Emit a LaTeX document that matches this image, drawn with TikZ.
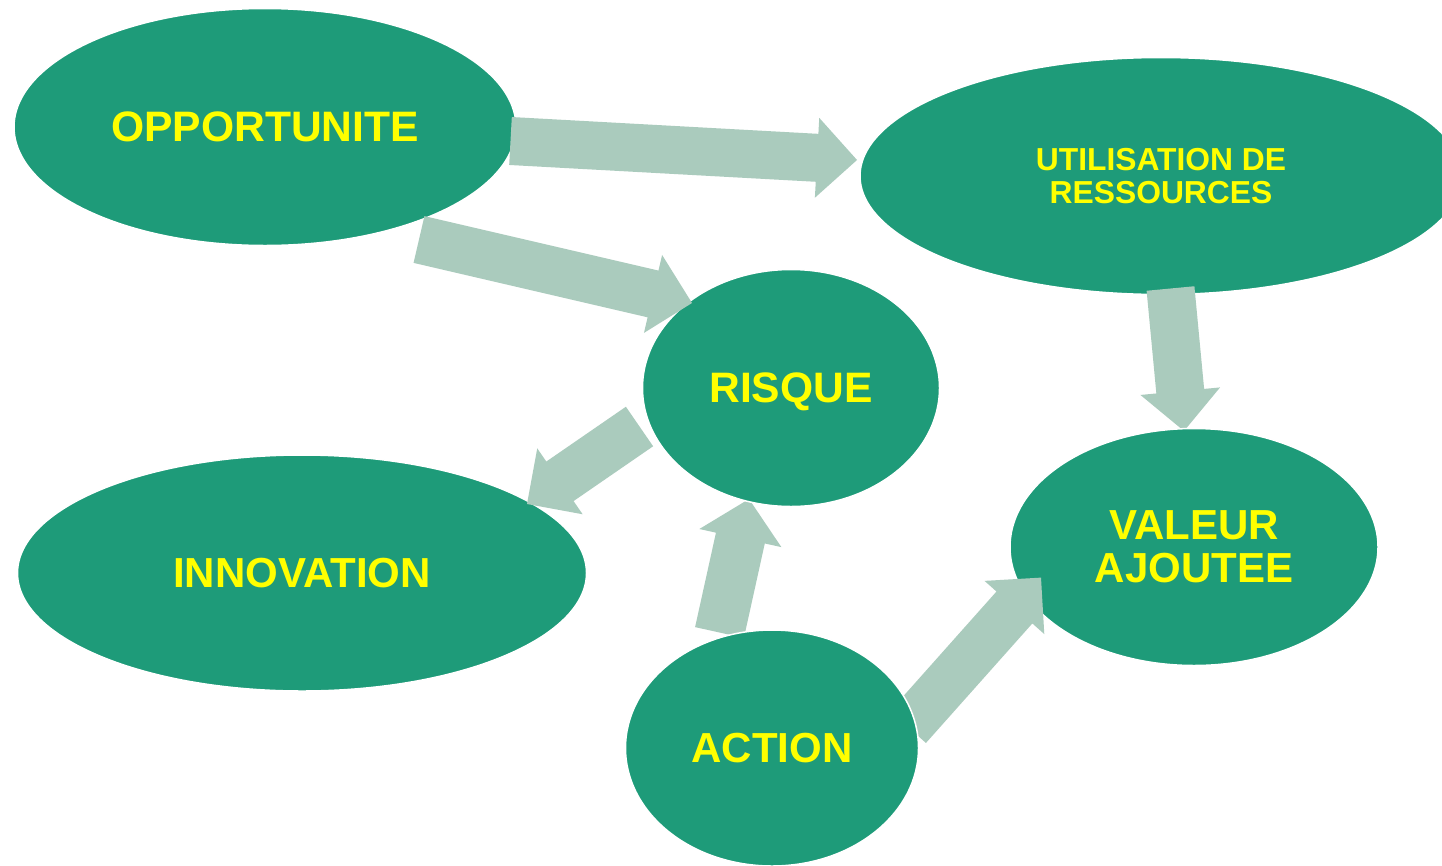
\documentclass[tikz,border=0pt]{standalone}
\usepackage{fontspec}
\setmainfont{Liberation Sans}
\usetikzlibrary{shapes.geometric,calc}
\definecolor{ellgreen}{RGB}{30,155,121}
\definecolor{arrowc}{RGB}{170,203,189}
\definecolor{txtyellow}{RGB}{255,255,0}
\tikzset{
  bubble/.style={ellipse, fill=ellgreen, draw=white, line width=1.5pt, inner sep=0pt, outer sep=0pt,
    text=txtyellow, font=\bfseries, align=center},
}
\newcommand\blockarrow[5]{%
  \coordinate (#1-#2-b) at ($(#2)!#5!(#1)$);
  \fill[arrowc] ($(#1)!#3!90:(#2)$) -- ($(#1-#2-b)!#3!90:(#2)$) -- ($(#1-#2-b)!#4!90:(#2)$) -- (#2)
    -- ($(#1-#2-b)!#4!-90:(#2)$) -- ($(#1-#2-b)!#3!-90:(#2)$) -- ($(#1)!#3!-90:(#2)$) -- cycle;}
\begin{document}
\begin{tikzpicture}[x=1pt,y=-1pt]
\useasboundingbox (0,0) rectangle (1442,865);
\fill[white] (0,0) rectangle (1442,865);
% connector end points
\coordinate (a1s) at (510.5,141);  \coordinate (a1t) at (857,160);
\coordinate (a2s) at (419,239.5);  \coordinate (a2t) at (692,303);
\coordinate (a3s) at (639.5,426.5);\coordinate (a3t) at (527,504);
\coordinate (a4s) at (719.5,632.5);\coordinate (a4t) at (749,499);
\coordinate (a5s) at (1170.5,288.5);\coordinate (a5t) at (1184,431);
\coordinate (a6s) at (908,727);    \coordinate (a6t) at (1041,577.6);
% back ellipses
\node[bubble, minimum width=502, minimum height=237, font=\bfseries\fontsize{42.6}{48}\selectfont] (opp) at (265,127) {OPPORTUNITE};
\node[bubble, minimum width=602, minimum height=237, font=\bfseries\fontsize{31.8}{33}\selectfont] (util) at (1161,176) {UTILISATION DE\\RESSOURCES};
\node[bubble, minimum width=569, minimum height=236, font=\bfseries\fontsize{42}{48}\selectfont] (innov) at (302,573) {INNOVATION};
% arrows under RISQUE / VALEUR
\blockarrow{a1s}{a1t}{24pt}{40pt}{40pt}
\blockarrow{a4s}{a4t}{25pt}{42pt}{40pt}
\blockarrow{a5s}{a5t}{24pt}{40pt}{40pt}
\node[bubble, minimum width=297, minimum height=237, text depth=0pt, font=\bfseries\fontsize{42.6}{48}\selectfont] (risque) at (791,388) {RISQUE};
\node[bubble, minimum width=368, minimum height=237, font=\bfseries\fontsize{42}{43}\selectfont] (valeur) at (1194,547) {VALEUR\\AJOUTEE};
% arrows over
\blockarrow{a2s}{a2t}{24pt}{40pt}{40pt}
\blockarrow{a3s}{a3t}{24pt}{40pt}{40pt}
\blockarrow{a6s}{a6t}{24pt}{40pt}{40pt}
\node[bubble, minimum width=293, minimum height=236, font=\bfseries\fontsize{42}{48}\selectfont] (action) at (772,748) {ACTION};
\end{tikzpicture}
\end{document}
